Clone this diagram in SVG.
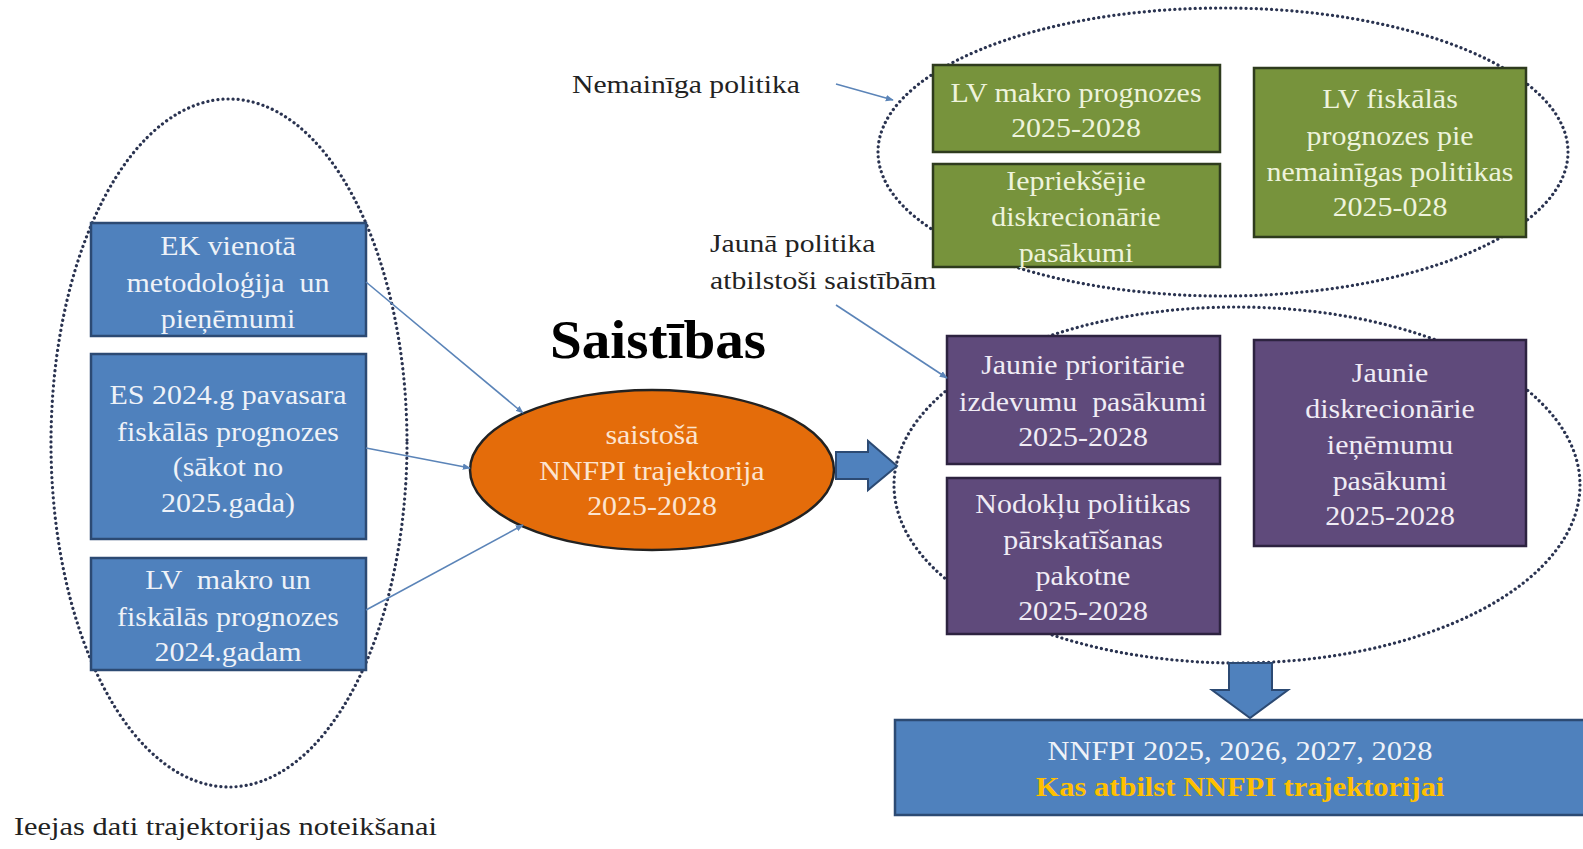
<svg xmlns="http://www.w3.org/2000/svg" width="1583" height="849" viewBox="0 0 1583 849">
<defs>
<style>
.t{font-family:"Liberation Serif","Times New Roman",serif;font-size:26.5px;text-anchor:middle}
.w{fill:#EEF2F8}
.g{fill:#EEF3DC}
.p{fill:#F0ECF5}
.blk{fill:#222;font-family:"Liberation Serif","Times New Roman",serif;font-size:26px}
.ttl{fill:#000;font-family:"Liberation Serif","Times New Roman",serif;font-size:54px;font-weight:bold;text-anchor:middle}
.dot{fill:none;stroke:#2A3350;stroke-width:3.2;stroke-dasharray:0.1 5;stroke-linecap:round}
.bb{fill:#4F81BD;stroke:#2C4A73;stroke-width:2.5}
.gb{fill:#77933C;stroke:#2E3B1D;stroke-width:2.5}
.pb{fill:#5F4A7B;stroke:#2D2340;stroke-width:2.5}
.ln{stroke:#5B84B8;stroke-width:1.6;fill:none;marker-end:url(#ah)}
</style>
<marker id="ah" viewBox="0 0 10 10" refX="9" refY="5" markerWidth="8" markerHeight="8" orient="auto" markerUnits="userSpaceOnUse">
<path d="M0,1 L10,5 L0,9 z" fill="#5B84B8"/>
</marker>
</defs>
<rect width="1583" height="849" fill="#fff"/>

<g id="groups">
<ellipse class="dot" cx="229" cy="443" rx="178" ry="344"/>
<ellipse class="dot" cx="1223" cy="152" rx="345" ry="144"/>
<ellipse class="dot" cx="1237" cy="485" rx="343" ry="178"/>
</g>

<g id="n-ek">
<rect class="bb" x="91" y="223" width="275" height="113"/>
<g transform="translate(228 0) scale(1.13 1)">
<text class="t w" x="0" y="255">EK vienotā</text>
<text class="t w" x="0" y="292" xml:space="preserve">metodoloģija  un</text>
<text class="t w" x="0" y="328">pieņēmumi</text>
</g>
</g>
<g id="n-es">
<rect class="bb" x="91" y="354" width="275" height="185"/>
<g transform="translate(228 0) scale(1.13 1)">
<text class="t w" x="0" y="404">ES 2024.g pavasara</text>
<text class="t w" x="0" y="441">fiskālās prognozes</text>
<text class="t w" x="0" y="476">(sākot no</text>
<text class="t w" x="0" y="512">2025.gada)</text>
</g>
</g>
<g id="n-lv">
<rect class="bb" x="91" y="558" width="275" height="112"/>
<g transform="translate(228 0) scale(1.13 1)">
<text class="t w" x="0" y="589" xml:space="preserve">LV  makro un</text>
<text class="t w" x="0" y="626">fiskālās prognozes</text>
<text class="t w" x="0" y="661">2024.gadam</text>
</g>
</g>
<g id="cap-left">
<text class="blk" transform="translate(14 835) scale(1.17 1)" x="0" y="0">Ieejas dati trajektorijas noteikšanai</text>
</g>

<g id="title">
<text class="ttl" transform="translate(658 358) scale(1.06 1)" x="0" y="0">Saistības</text>
</g>

<g id="n-traj">
<ellipse cx="652" cy="470" rx="182" ry="80" fill="#E46C0A" stroke="#222" stroke-width="2.5"/>
<g transform="translate(652 0) scale(1.13 1)">
<text class="t" fill="#FCE4D0" x="0" y="444">saistošā</text>
<text class="t" fill="#FCE4D0" x="0" y="480">NNFPI trajektorija</text>
<text class="t" fill="#FCE4D0" x="0" y="515">2025-2028</text>
</g>
</g>

<g id="lbl-nem">
<text class="blk" transform="translate(572 93) scale(1.14 1)" x="0" y="0">Nemainīga politika</text>
</g>
<g id="lbl-jaun">
<text class="blk" transform="translate(710 252) scale(1.14 1)" x="0" y="0">Jaunā politika</text>
<text class="blk" transform="translate(710 289) scale(1.14 1)" x="0" y="0">atbilstoši saistībām</text>
</g>

<g id="n-makro">
<rect class="gb" x="933" y="65" width="287" height="87"/>
<g transform="translate(1076 0) scale(1.13 1)">
<text class="t g" x="0" y="102">LV makro prognozes</text>
<text class="t g" x="0" y="137">2025-2028</text>
</g>
</g>
<g id="n-iepr">
<rect class="gb" x="933" y="164" width="287" height="103"/>
<g transform="translate(1076 0) scale(1.13 1)">
<text class="t g" x="0" y="190">Iepriekšējie</text>
<text class="t g" x="0" y="226">diskrecionārie</text>
<text class="t g" x="0" y="262">pasākumi</text>
</g>
</g>
<g id="n-fisk">
<rect class="gb" x="1254" y="68" width="272" height="169"/>
<g transform="translate(1390 0) scale(1.13 1)">
<text class="t g" x="0" y="108">LV fiskālās</text>
<text class="t g" x="0" y="145">prognozes pie</text>
<text class="t g" x="0" y="181">nemainīgas politikas</text>
<text class="t g" x="0" y="216">2025-028</text>
</g>
</g>

<g id="n-prior">
<rect class="pb" x="947" y="336" width="273" height="128"/>
<g transform="translate(1083 0) scale(1.13 1)">
<text class="t p" x="0" y="374">Jaunie prioritārie</text>
<text class="t p" x="0" y="411" xml:space="preserve">izdevumu  pasākumi</text>
<text class="t p" x="0" y="446">2025-2028</text>
</g>
</g>
<g id="n-nodok">
<rect class="pb" x="947" y="478" width="273" height="156"/>
<g transform="translate(1083 0) scale(1.13 1)">
<text class="t p" x="0" y="513">Nodokļu politikas</text>
<text class="t p" x="0" y="549">pārskatīšanas</text>
<text class="t p" x="0" y="585">pakotne</text>
<text class="t p" x="0" y="620">2025-2028</text>
</g>
</g>
<g id="n-ienem">
<rect class="pb" x="1254" y="340" width="272" height="206"/>
<g transform="translate(1390 0) scale(1.13 1)">
<text class="t p" x="0" y="382">Jaunie</text>
<text class="t p" x="0" y="418">diskrecionārie</text>
<text class="t p" x="0" y="454">ieņēmumu</text>
<text class="t p" x="0" y="490">pasākumi</text>
<text class="t p" x="0" y="525">2025-2028</text>
</g>
</g>

<g id="n-result">
<rect class="bb" x="895" y="720" width="700" height="95"/>
<g transform="translate(1240 0) scale(1.15 1)">
<text class="t w" x="0" y="760">NNFPI 2025, 2026, 2027, 2028</text>
<text class="t" x="0" y="796" fill="#FFC000" font-weight="bold">Kas atbilst NNFPI trajektorijai</text>
</g>
</g>

<g id="connectors">
<line class="ln" x1="366" y1="282" x2="523" y2="413"/>
<line class="ln" x1="366" y1="448" x2="470" y2="468"/>
<line class="ln" x1="366" y1="610" x2="523" y2="525"/>
<line class="ln" x1="836" y1="84" x2="893" y2="100"/>
<line class="ln" x1="836" y1="305" x2="947" y2="378"/>
<path d="M836,452 L868,452 L868,441 L897,466 L868,490 L868,479 L836,479 Z" fill="#4F81BD" stroke="#2C4A73" stroke-width="2"/>
<path d="M1229,663 L1272,663 L1272,690 L1288,690 L1250,718 L1212,690 L1229,690 Z" fill="#4F81BD" stroke="#2C4A73" stroke-width="2"/>
</g>
</svg>
